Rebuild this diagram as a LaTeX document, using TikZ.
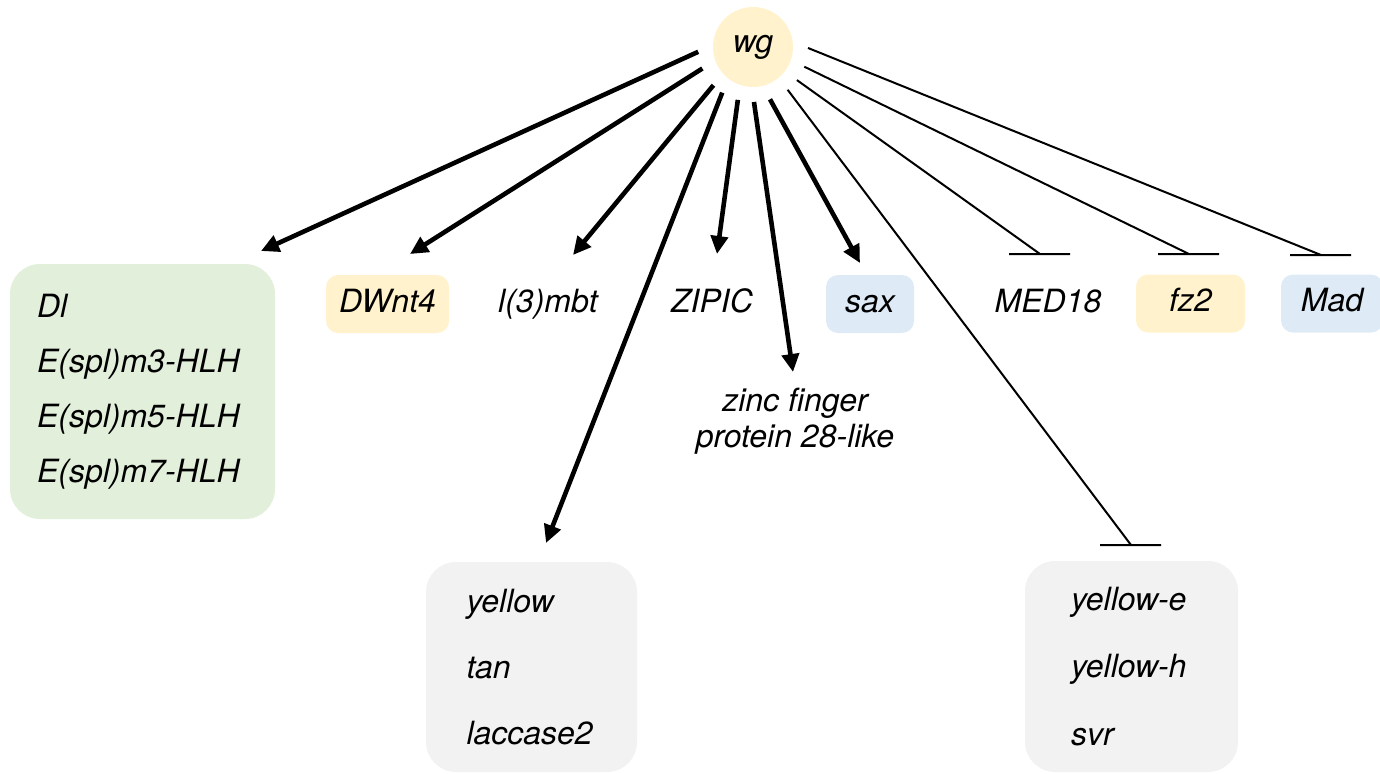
\documentclass[tikz,border=0pt]{standalone}
\usepackage{fontspec}
\setmainfont{TeX Gyre Heros}
\usetikzlibrary{calc, positioning, arrows.meta}
\definecolor{wgyellow}{HTML}{FFF2CC}
\definecolor{boxgreen}{HTML}{E2EFDA}
\definecolor{boxblue}{HTML}{DEEBF7}
\definecolor{boxgray}{HTML}{F2F2F2}
\tikzset{
  gene/.style={font=\fontsize{16}{19}\selectfont\itshape, text height=11.5pt, text depth=3.5pt, inner sep=0pt},
  genebox/.style={gene, rounded corners=6pt, minimum height=29pt},
  groupbox/.style={rounded corners=15pt, align=left, inner ysep=0pt},
  activ/.style={line width=2.3pt, -{Triangle[length=9pt, width=8.5pt]}},
  inhib/.style={line width=1pt},
}
\begin{document}
\begin{tikzpicture}[x=0.5pt, y=-0.5pt]
          \useasboundingbox (0, 0) rectangle (1380, 773);
          \node[circle, fill=wgyellow, minimum size=40pt, inner sep=0pt, outer sep=7.5pt, font=\fontsize{16}{19}\selectfont\itshape] (wg) at (753, 47) {wg};
          \node[groupbox, fill=boxgreen, minimum width=132.5pt, minimum height=127.5pt, text width=105.5pt, inner xsep=13.5pt, font=\fontsize{16}{27.5}\selectfont\itshape] (notch) at (142.5, 391.5) {Dl\\E(spl)m3-HLH\\E(spl)m5-HLH\\E(spl)m7-HLH};
          \node[genebox, fill=wgyellow, minimum width=61.5pt] (dwnt) at (387.5, 304) {DWnt4};
          \node[gene] (mbt) at (548, 304) {l(3)mbt};
          \node[gene] (zipic) at (712, 304) {ZIPIC};
          \node[genebox, fill=boxblue, minimum width=44pt] (sax) at (870, 304) {sax};
          \node[gene] (med) at (1048, 304) {MED18};
          \node[genebox, fill=wgyellow, minimum width=54.5pt] (fz) at (1190.5, 303.5) {fz2};
          \node[genebox, fill=boxblue, minimum width=51pt] (mad) at (1332, 303.5) {Mad};
          \node[align=center, inner sep=0pt, font=\fontsize{16}{18}\selectfont\itshape] (zinc) at (795, 421) {zinc finger\\protein 28-like};
          \node[groupbox, fill=boxgray, minimum width=105.5pt, minimum height=105pt, text width=65pt, inner xsep=20.25pt, font=\fontsize{16}{33}\selectfont\itshape] (pigment) at (531.5, 667) {yellow\\tan\\laccase2};
          \node[groupbox, fill=boxgray, minimum width=106.5pt, minimum height=105.5pt, text width=60.5pt, inner xsep=23pt, font=\fontsize{16}{33.75}\selectfont\itshape] (repressed) at (1131.5, 666.5) {yellow-e\\yellow-h\\svr};
          \coordinate (tipnotch) at (261, 251);
          \coordinate (tipdwnt) at (410, 254);
          \coordinate (tipmbt) at (573, 255);
          \coordinate (tippigment) at (546, 543);
          \coordinate (tipzipic) at (717, 254);
          \coordinate (tipzinc) at (793, 372);
          \coordinate (tipsax) at (860, 263);
          \coordinate (barrepressed) at (1131, 545);
          \coordinate (barmed) at (1040, 254);
          \coordinate (barfz) at (1189, 254);
          \coordinate (barmad) at (1321, 255);
          \draw[activ] (wg.185) -- (tipnotch);
          \draw[activ] (wg.203) -- (tipdwnt);
          \draw[activ] (wg.224) -- (tipmbt);
          \draw[activ] (wg.236) -- (tippigment);
          \draw[activ] (wg.254) -- (tipzipic);
          \draw[activ] (wg.271) -- (tipzinc);
          \draw[activ] (wg.288) -- (tipsax);
          \draw[inhib] (wg.309) -- (barrepressed) +(-31, 0) -- +(30, 0);
          \draw[inhib] (wg.323) -- (barmed) +(-31, 0) -- +(30, 0);
          \draw[inhib] (wg.339) -- (barfz) +(-31, 0) -- +(30, 0);
          \draw[inhib] (wg.359) -- (barmad) +(-31, 0) -- +(30, 0);
      \end{tikzpicture}
\end{document}
